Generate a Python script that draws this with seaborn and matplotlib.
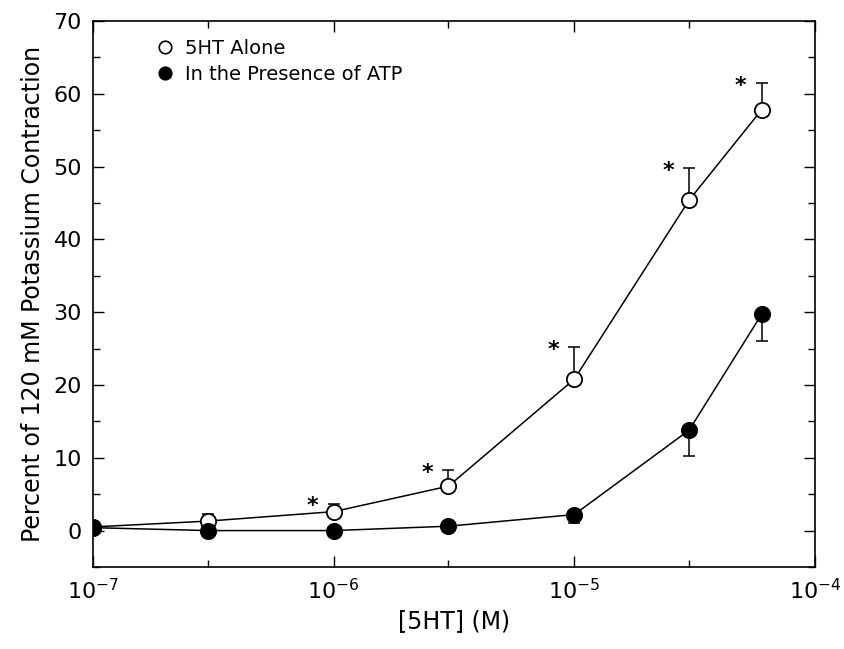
import matplotlib
matplotlib.use("Agg")
import matplotlib.pyplot as plt
from matplotlib.lines import Line2D
from matplotlib.ticker import FixedLocator, NullFormatter, MultipleLocator
import seaborn as sns
import pandas as pd

# concentrations of 5HT (M)
conc = [1e-7, 3e-7, 1e-6, 3e-6, 1e-5, 3e-5, 6e-5]

# 5HT alone (open circles), SEM drawn upward
alone = [0.5, 1.3, 2.6, 6.1, 20.8, 45.4, 57.8]
alone_err = [0.3, 1.0, 1.1, 2.2, 4.4, 4.4, 3.7]
alone_sig = [False, False, True, True, True, True, True]

# in the presence of ATP (filled circles), SEM drawn downward
atp = [0.4, 0.0, 0.0, 0.6, 2.2, 13.8, 29.7]
atp_err = [0.3, 0.3, 0.3, 0.3, 1.2, 3.6, 3.7]

sns.set_style("ticks")
plt.rcParams["font.family"] = ["DejaVu Sans"]
plt.rcParams["text.color"] = "black"
plt.rcParams["axes.labelcolor"] = "black"

df = pd.concat([
    pd.DataFrame({"conc": conc, "value": alone, "group": "5HT Alone"}),
    pd.DataFrame({"conc": conc, "value": atp, "group": "In the Presence of ATP"}),
])

fig = plt.figure(figsize=(8.45, 6.49), dpi=100)
ax = fig.add_axes([0.110, 0.1264, 0.8545, 0.8412])

# error bars (one-sided)
ax.errorbar(conc, alone, yerr=[[0] * len(alone), alone_err], fmt="none",
            ecolor="black", elinewidth=1.1, capsize=4.5, capthick=1.1, zorder=2)
ax.errorbar(conc, atp, yerr=[atp_err, [0] * len(atp)], fmt="none",
            ecolor="black", elinewidth=1.1, capsize=4.5, capthick=1.1, zorder=2)

# connecting lines
sns.lineplot(data=df, x="conc", y="value", units="group", estimator=None,
             color="black", linewidth=1.1, ax=ax, zorder=3, legend=False)

# markers
ax.plot(conc, alone, "o", ms=11, mfc="white", mec="black", mew=1.3, zorder=4)
ax.plot(conc, atp, "o", ms=11, mfc="black", mec="black", mew=1.3, zorder=4)

# significance stars
for x, y, e, s in zip(conc, alone, alone_err, alone_sig):
    if s:
        ax.annotate("*", xy=(x, y + e), xytext=(-15, -2), textcoords="offset points",
                    ha="center", va="center", fontsize=16, fontweight="bold")

ax.set_xscale("log")
ax.set_xlim(1e-7, 1e-4)
ax.set_ylim(-5, 70)
ax.xaxis.set_minor_locator(FixedLocator([3e-7, 3e-6, 3e-5]))
ax.xaxis.set_minor_formatter(NullFormatter())
ax.yaxis.set_major_locator(MultipleLocator(10))
ax.yaxis.set_minor_locator(MultipleLocator(5))
ax.set_yticks(range(0, 71, 10))

ax.tick_params(which="both", direction="in", top=True, right=True, width=1, colors="black",
               labelsize=16, pad=8)
ax.tick_params(which="major", length=8)
ax.tick_params(which="minor", length=5)
for sp in ax.spines.values():
    sp.set_visible(True)
    sp.set_linewidth(1.2)
    sp.set_color("black")

ax.set_xlabel("[5HT] (M)", fontsize=17, labelpad=4)
ax.set_ylabel("Percent of 120 mM Potassium Contraction", fontsize=17, labelpad=6)

handles = [
    Line2D([], [], marker="o", ls="none", ms=9, mfc="white", mec="black", mew=1.2),
    Line2D([], [], marker="o", ls="none", ms=9, mfc="black", mec="black", mew=1.2),
]
ax.legend(handles, ["5HT Alone", "In the Presence of ATP"], loc="upper left",
          bbox_to_anchor=(0.06, 1.0), frameon=False, fontsize=14,
          handletextpad=0.4, labelspacing=0.4, handlelength=1.2, labelcolor="black")

fig.savefig("out.png", dpi=100, facecolor="white")
